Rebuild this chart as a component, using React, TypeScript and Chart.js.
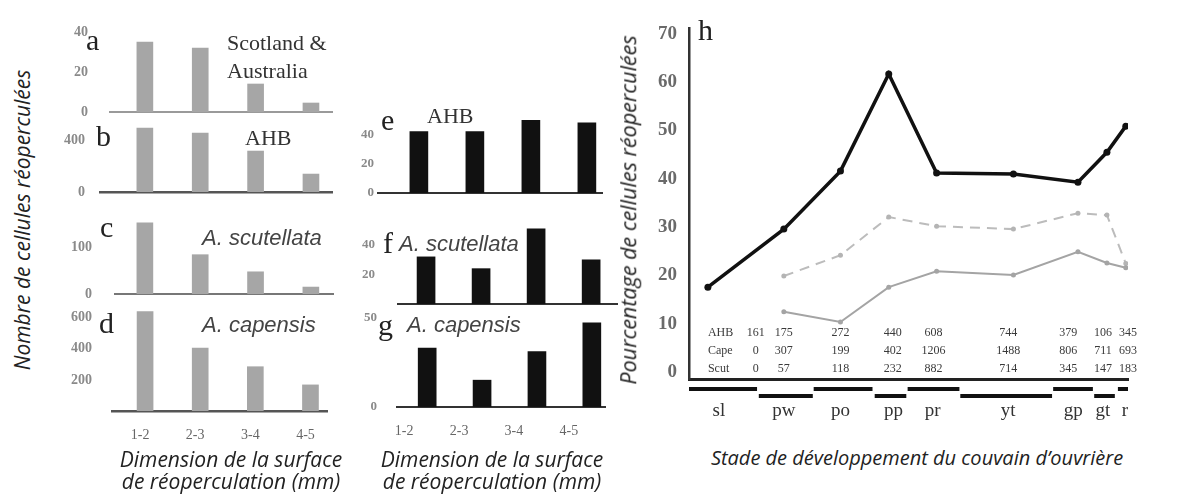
import React, { useEffect, useRef } from 'react';
import { Chart, registerables } from 'chart.js';

Chart.register(...registerables);

// ---------------- data ----------------
const sizeClasses = ['1-2', '2-3', '3-4', '4-5'];

// left column (numbers of recapped cells)
const scotAusCounts = [35, 32, 14, 4.5];
const ahbCounts = [492, 454, 315, 138];
const scutCounts = [154, 85, 48, 15];
const capCounts = [640, 405, 285, 168];

// middle column
const ahbSize = [42, 42, 51, 48];
const scutSize = [32, 24, 51, 30];
const capSize = [33, 15, 31, 47];

const ticksA = [0, 20, 40];
const ticksB = [0, 400];
const ticksC = [0, 100];
const ticksD = [200, 400, 600];
const ticksE = [0, 20, 40];
const ticksF = [20, 40];
const ticksG = [0, 50];

// panel h
const stages = ['sl', 'pw', 'po', 'pp', 'pr', 'yt', 'gp', 'gt', 'r'];
const stagePos = [4.3, 21.6, 34.5, 45.5, 56.4, 73.9, 88.6, 95.2, 99.5];
const stageLabelPos = [6.8, 21.6, 34.5, 46.6, 55.5, 72.7, 87.5, 94.3, 99.3];
const stageStart = [0, 15.9, 28.4, 42.3, 49.8, 61.8, 82.95, 92.3, 97.7];
const stageEnd = [15.5, 28.2, 41.8, 49.5, 61.6, 82.7, 92.0, 97.0, 100];
const ahbPct = [17.6, 29.6, 41.6, 61.7, 41.2, 41.0, 39.3, 45.5, 50.9];
const capePct = [null, 19.9, 24.2, 32.1, 30.2, 29.6, 32.9, 32.5, 22.5];
const scutPct = [null, 12.5, 10.4, 17.6, 20.9, 20.1, 24.9, 22.6, 21.6];
const ahbN = [161, 175, 272, 440, 608, 744, 379, 106, 345];
const capeN = [0, 307, 199, 402, 1206, 1488, 806, 711, 693];
const scutN = [0, 57, 118, 232, 882, 714, 345, 147, 183];
const rowNames = ['AHB', 'Cape', 'Scut'];
const tableColPos = [15.2, 21.6, 34.5, 46.4, 55.7, 72.7, 86.4, 94.3, 100];
const tableLabelPos = 4.3;
const pctTicks = [0, 10, 20, 30, 40, 50, 60, 70];

// ---------------- styles ----------------
const SERIF = '"Liberation Serif", "DejaVu Serif", serif';
const SANS = '"Liberation Sans", Arial, sans-serif';
const TITLE = '"Open Sans", "Noto Sans", sans-serif';
const GREY = '#a6a6a6';
const BLACK = '#111111';

type Box = { left: number; top: number; width: number; height: number };
type Area = { left: number; top: number; right: number; bottom: number };
type PanelCfg = {
  values: number[];
  yMax: number;
  yTicks: number[];
  box: Box;
  area: Area;
  xMin: number;
  xMax: number;
  barW: number;
  color: string;
  axisColor: string;
  axisWidth: number;
  tickPad: number;
  tickSize: number;
  showX: boolean;
  labelOffset?: number;
};

const panels: PanelCfg[] = [
  { values: scotAusCounts, yMax: 40, yTicks: ticksA, box: { left: 40, top: 15, width: 300, height: 109 }, area: { left: 110, top: 32, right: 332, bottom: 112 }, xMin: 0.37, xMax: 4.38, barW: 16, color: GREY, axisColor: '#9a9a9a', axisWidth: 2, tickPad: 22, tickSize: 14, showX: false },
  { values: ahbCounts, yMax: 500, yTicks: ticksB, box: { left: 40, top: 115, width: 300, height: 92 }, area: { left: 100, top: 127, right: 332, bottom: 192 }, xMin: 0.19, xMax: 4.38, barW: 16, color: GREY, axisColor: '#555', axisWidth: 2.5, tickPad: 15, tickSize: 14, showX: false },
  { values: scutCounts, yMax: 160, yTicks: ticksC, box: { left: 40, top: 205, width: 300, height: 104 }, area: { left: 115, top: 220, right: 333, bottom: 294 }, xMin: 0.46, xMax: 4.4, barW: 16, color: GREY, axisColor: '#777', axisWidth: 2, tickPad: 23, tickSize: 14, showX: false },
  { values: capCounts, yMax: 650, yTicks: ticksD, box: { left: 40, top: 295, width: 300, height: 160 }, area: { left: 112, top: 310, right: 327, bottom: 411 }, xMin: 0.4, xMax: 4.3, barW: 16, color: GREY, axisColor: '#555', axisWidth: 2.5, tickPad: 20, tickSize: 14, showX: true, labelOffset: -5 },
  { values: ahbSize, yMax: 50, yTicks: ticksE, box: { left: 330, top: 105, width: 285, height: 103 }, area: { left: 378, top: 120, right: 602, bottom: 193 }, xMin: 0.27, xMax: 4.27, barW: 18, color: BLACK, axisColor: '#333', axisWidth: 2, tickPad: 4, tickSize: 13, showX: false },
  { values: scutSize, yMax: 55, yTicks: ticksF, box: { left: 330, top: 205, width: 300, height: 114 }, area: { left: 398, top: 223, right: 617, bottom: 304 }, xMin: 0.49, xMax: 4.47, barW: 18, color: BLACK, axisColor: '#333', axisWidth: 2, tickPad: 23, tickSize: 13, showX: false },
  { values: capSize, yMax: 52, yTicks: ticksG, box: { left: 330, top: 300, width: 290, height: 155 }, area: { left: 397, top: 314, right: 605, bottom: 407 }, xMin: 0.45, xMax: 4.24, barW: 18, color: BLACK, axisColor: '#333', axisWidth: 2, tickPad: 20, tickSize: 13, showX: true, labelOffset: -23 },
];

const noPadY = (width: number) => (s: any) => {
  s.width = width;
  s.paddingTop = 0;
  s.paddingBottom = 0;
};
const noPadX = (height: number) => (s: any) => {
  s.height = height;
  s.paddingLeft = 0;
  s.paddingRight = 0;
};

function BarPanel({ cfg }: { cfg: PanelCfg }) {
  const ref = useRef<HTMLCanvasElement | null>(null);
  useEffect(() => {
    if (!ref.current) return;
    const H = cfg.showX ? 40 : 0;
    const W = cfg.area.left - cfg.box.left;
    const chart = new Chart(ref.current, {
      type: 'bar',
      data: {
        datasets: [
          {
            data: cfg.values.map((v, i) => ({ x: i + 1, y: v })),
            backgroundColor: cfg.color,
            borderWidth: 0,
            barThickness: cfg.barW,
          } as any,
        ],
      },
      options: {
        animation: false,
        responsive: false,
        maintainAspectRatio: false,
        devicePixelRatio: 1,
        events: [],
        layout: {
          autoPadding: false,
          padding: {
            left: 0,
            top: cfg.area.top - cfg.box.top,
            right: cfg.box.left + cfg.box.width - cfg.area.right,
            bottom: cfg.box.top + cfg.box.height - cfg.area.bottom - H,
          },
        },
        plugins: { legend: { display: false }, tooltip: { enabled: false }, title: { display: false } },
        scales: {
          x: {
            type: 'linear',
            min: cfg.xMin,
            max: cfg.xMax,
            offset: false,
            afterBuildTicks: (s: any) => {
              s.ticks = sizeClasses.map((_, i) => ({ value: i + 1 }));
            },
            afterFit: noPadX(H),
            grid: { display: false, drawTicks: false, offset: false },
            border: { display: true, color: cfg.axisColor, width: cfg.axisWidth },
            ticks: {
              display: cfg.showX,
              autoSkip: false,
              maxRotation: 0,
              padding: 16,
              labelOffset: cfg.labelOffset ?? 0,
              callback: (v: any) => sizeClasses[Math.round(Number(v)) - 1] ?? '',
              font: { family: SERIF, size: 14 },
              color: '#666',
            },
          },
          y: {
            type: 'linear',
            min: 0,
            max: cfg.yMax,
            afterBuildTicks: (s: any) => {
              s.ticks = cfg.yTicks.map((v) => ({ value: v }));
            },
            afterFit: noPadY(W),
            grid: { display: false, drawTicks: false },
            border: { display: false },
            ticks: {
              padding: cfg.tickPad,
              font: { family: SERIF, size: cfg.tickSize, weight: 'bold' },
              color: '#8a8a8a',
            },
          },
        },
      } as any,
    });
    return () => chart.destroy();
  }, [cfg]);
  return (
    <canvas
      ref={ref}
      width={cfg.box.width}
      height={cfg.box.height}
      style={{ position: 'absolute', left: cfg.box.left, top: cfg.box.top, width: cfg.box.width, height: cfg.box.height }}
    />
  );
}

const hExtras = {
  id: 'hExtras',
  afterDraw(chart: any) {
    const { ctx, chartArea } = chart;
    const x = chart.scales.x;
    ctx.save();
    // stage duration bars
    ctx.fillStyle = '#111';
    stages.forEach((_, i) => {
      const x0 = x.getPixelForValue(stageStart[i]);
      const x1 = x.getPixelForValue(stageEnd[i]);
      const y = chartArea.bottom + (i % 2 === 0 ? 10 : 17);
      ctx.fillRect(x0, y - 2, x1 - x0, 4);
    });
    // sample sizes table
    ctx.font = `12px ${SERIF}`;
    ctx.fillStyle = '#3a3a3a';
    ctx.textBaseline = 'middle';
    const rows = [ahbN, capeN, scutN];
    rows.forEach((vals, r) => {
      const y = chartArea.bottom - 46 + r * 18;
      ctx.textAlign = 'left';
      ctx.fillText(rowNames[r], x.getPixelForValue(tableLabelPos), y);
      ctx.textAlign = 'center';
      vals.forEach((v, i) => ctx.fillText(String(v), x.getPixelForValue(tableColPos[i]), y));
    });
    ctx.restore();
  },
};

function LinePanel() {
  const ref = useRef<HTMLCanvasElement | null>(null);
  useEffect(() => {
    if (!ref.current) return;
    const box = { left: 640, top: 10, width: 500, height: 424 };
    const area = { left: 689, top: 28, right: 1128, bottom: 379 };
    const H = 55;
    const chart = new Chart(ref.current, {
      type: 'line',
      data: {
        datasets: [
          {
            label: 'Scut',
            data: stagePos.map((p, i) => ({ x: p, y: scutPct[i] })),
            borderColor: '#a4a4a4',
            backgroundColor: '#a4a4a4',
            borderWidth: 2,
            pointRadius: 2.5,
            pointBorderWidth: 0,
            tension: 0,
          },
          {
            label: 'Cape',
            data: stagePos.map((p, i) => ({ x: p, y: capePct[i] })),
            borderColor: '#bcbcbc',
            backgroundColor: '#b4b4b4',
            borderWidth: 2,
            borderDash: [10, 7],
            pointRadius: 2.5,
            pointBorderWidth: 0,
            tension: 0,
          },
          {
            label: 'AHB',
            data: stagePos.map((p, i) => ({ x: p, y: ahbPct[i] })),
            borderColor: '#111',
            backgroundColor: '#111',
            borderWidth: 3.5,
            pointRadius: 3.5,
            pointBorderWidth: 0,
            tension: 0,
          },
        ],
      },
      options: {
        animation: false,
        responsive: false,
        maintainAspectRatio: false,
        devicePixelRatio: 1,
        events: [],
        layout: {
          autoPadding: false,
          padding: {
            left: 0,
            top: area.top - box.top,
            right: box.left + box.width - area.right,
            bottom: box.top + box.height - area.bottom - H,
          },
        },
        plugins: { legend: { display: false }, tooltip: { enabled: false } },
        scales: {
          x: {
            type: 'linear',
            min: 0,
            max: 100,
            offset: false,
            afterBuildTicks: (s: any) => {
              s.ticks = stageLabelPos.map((v) => ({ value: v }));
            },
            afterFit: noPadX(H),
            grid: { display: false, drawTicks: false },
            border: { display: true, color: '#222', width: 3 },
            ticks: {
              autoSkip: false,
              maxRotation: 0,
              padding: 21,
              callback: (_v: any, i: number) => stages[i],
              font: { family: SERIF, size: 19 },
              color: '#333',
            },
          },
          y: {
            type: 'linear',
            min: -1.4,
            max: 71.2,
            afterBuildTicks: (s: any) => {
              s.ticks = pctTicks.map((v) => ({ value: v }));
            },
            afterFit: noPadY(area.left - box.left),
            grid: { display: false, drawTicks: false },
            border: { display: true, color: '#333', width: 2.5 },
            ticks: {
              padding: 12,
              font: { family: SERIF, size: 19, weight: 'bold' },
              color: '#6a6a6a',
            },
          },
        },
      } as any,
      plugins: [hExtras],
    });
    return () => chart.destroy();
  }, []);
  return (
    <canvas
      ref={ref}
      width={500}
      height={424}
      style={{ position: 'absolute', left: 640, top: 10, width: 500, height: 424 }}
    />
  );
}

type TxtProps = {
  x: number;
  base: number;
  size: number;
  font: string;
  ratio: number;
  italic?: boolean;
  color?: string;
  center?: boolean;
  text: string;
};

function Txt(p: TxtProps) {
  return (
    <div
      style={{
        position: 'absolute',
        left: p.x,
        top: p.base - p.ratio * p.size,
        fontFamily: p.font,
        fontSize: p.size,
        lineHeight: `${p.size}px`,
        fontStyle: p.italic ? 'italic' : 'normal',
        color: p.color ?? '#222',
        whiteSpace: 'nowrap',
        transform: p.center ? 'translateX(-50%)' : undefined,
      }}
    >
      {p.text}
    </div>
  );
}

const RS = 0.84; // serif baseline ratio
const RA = 0.85; // sans baseline ratio
const RO = 0.89; // open sans baseline ratio

function VTitle({ x, y, size, text }: { x: number; y: number; size: number; text: string }) {
  return (
    <div
      style={{
        position: 'absolute',
        left: x,
        top: y,
        transform: 'translate(-50%, -50%) rotate(-90deg)',
        whiteSpace: 'nowrap',
        fontFamily: TITLE,
        fontStyle: 'italic',
        fontSize: size,
        lineHeight: `${size + 4}px`,
        color: '#222',
      }}
    >
      {text}
    </div>
  );
}

export default function App() {
  return (
    <div style={{ position: 'absolute', left: 0, top: 0, width: 1180, height: 497, background: '#fff', overflow: 'hidden' }}>
      {panels.map((cfg, i) => (
        <BarPanel key={i} cfg={cfg} />
      ))}
      <LinePanel />

      {/* panel letters */}
      <Txt x={86} base={50} size={30} font={SERIF} ratio={RS} text="a" />
      <Txt x={96} base={146} size={30} font={SERIF} ratio={RS} text="b" />
      <Txt x={100} base={237} size={30} font={SERIF} ratio={RS} text="c" />
      <Txt x={99} base={333} size={30} font={SERIF} ratio={RS} text="d" />
      <Txt x={381} base={130} size={30} font={SERIF} ratio={RS} text="e" />
      <Txt x={383} base={253} size={30} font={SERIF} ratio={RS} text="f" />
      <Txt x={378} base={335} size={30} font={SERIF} ratio={RS} text="g" />
      <Txt x={698} base={40} size={30} font={SERIF} ratio={RS} text="h" />

      {/* panel captions */}
      <Txt x={227} base={50} size={22} font={SERIF} ratio={RS} color="#333" text="Scotland &" />
      <Txt x={227} base={78} size={22} font={SERIF} ratio={RS} color="#333" text="Australia" />
      <Txt x={245} base={145} size={22} font={SERIF} ratio={RS} color="#333" text="AHB" />
      <Txt x={202} base={246} size={22} font={SANS} ratio={RA} italic color="#444" text="A. scutellata" />
      <Txt x={202} base={333} size={22} font={SANS} ratio={RA} italic color="#444" text="A. capensis" />
      <Txt x={427} base={123} size={22} font={SERIF} ratio={RS} color="#333" text="AHB" />
      <Txt x={399} base={252} size={22} font={SANS} ratio={RA} italic color="#444" text="A. scutellata" />
      <Txt x={407} base={333} size={22} font={SANS} ratio={RA} italic color="#444" text="A. capensis" />

      {/* axis titles */}
      <VTitle x={22} y={220} size={21} text="Nombre de cellules réoperculées" />
      <VTitle x={628} y={210} size={21.5} text="Pourcentage de cellules réoperculées" />
      <Txt x={231} base={468} size={21} font={TITLE} ratio={RO} italic center text="Dimension de la surface" />
      <Txt x={231} base={490} size={21} font={TITLE} ratio={RO} italic center text="de réoperculation (mm)" />
      <Txt x={492} base={468} size={21} font={TITLE} ratio={RO} italic center text="Dimension de la surface" />
      <Txt x={492} base={490} size={21} font={TITLE} ratio={RO} italic center text="de réoperculation (mm)" />
      <Txt x={917} base={466} size={20} font={TITLE} ratio={RO} italic center text="Stade de développement du couvain d’ouvrière" />
    </div>
  );
}
